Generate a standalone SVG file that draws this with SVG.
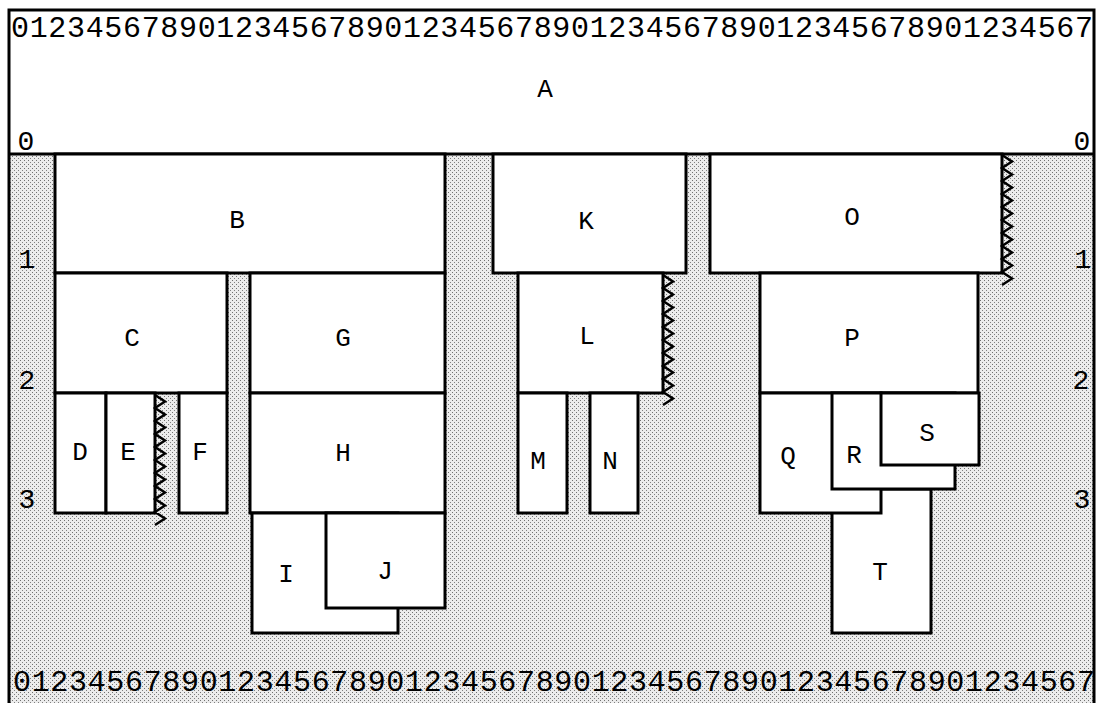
<svg xmlns="http://www.w3.org/2000/svg" width="1099" height="703" viewBox="0 0 1099 703">
<defs>
<pattern id="dots" width="4" height="4" patternUnits="userSpaceOnUse">
<rect width="4" height="4" fill="#ececec"/>
<rect x="0" y="0" width="1" height="1" fill="#707070"/>
<rect x="2" y="2" width="1" height="1" fill="#808080"/>
</pattern>
</defs>
<style>
.bx{fill:#fff;stroke:#000;stroke-width:3}
.zz{fill:none;stroke:#000;stroke-width:2.5;stroke-linejoin:miter}
.lb{font-family:"Liberation Mono","DejaVu Sans Mono",monospace;font-size:26px;fill:#000;text-anchor:middle}
.num{font-family:"Liberation Mono","DejaVu Sans Mono",monospace;font-size:28px;fill:#000;text-anchor:middle}
.rul{font-family:"Liberation Mono","DejaVu Sans Mono",monospace;font-size:30px;fill:#000}
.edge{fill:none;stroke:#000;stroke-width:3}
</style>
<rect x="0" y="0" width="1099" height="703" fill="#fff"/>
<rect x="9" y="154" width="1086" height="549" fill="url(#dots)"/>
<g id="A">
<rect x="9" y="10" width="1085" height="144" fill="#fff" stroke="none"/>
<text class="lb" x="545" y="97">A</text>
</g>
<path class="edge" d="M9 703 V10 H1094 V703 M9 154 H1094"/>
<text class="rul" x="11" y="37" textLength="1082" lengthAdjust="spacing">0123456789012345678901234567890123456789012345678901234567</text>
<text class="rul" x="13" y="691" textLength="1082" lengthAdjust="spacing">0123456789012345678901234567890123456789012345678901234567</text>
<text class="num" x="26" y="150">0</text>
<text class="num" x="27" y="268">1</text>
<text class="num" x="27" y="389">2</text>
<text class="num" x="27" y="508">3</text>
<text class="num" x="1082" y="150">0</text>
<text class="num" x="1083" y="268">1</text>
<text class="num" x="1081" y="389">2</text>
<text class="num" x="1082" y="508">3</text>
<g id="B"><rect class="bx" x="55" y="154" width="390" height="119"/><text class="lb" x="237" y="228">B</text></g>
<g id="C"><rect class="bx" x="55" y="273" width="172" height="120"/><text class="lb" x="132" y="346">C</text></g>
<g id="D"><rect class="bx" x="55" y="393" width="51" height="120"/><text class="lb" x="80" y="460">D</text></g>
<g id="E"><rect class="bx" x="106" y="393" width="49" height="120"/><text class="lb" x="128" y="460">E</text>
<path class="zz" d="M155 395 l10 6.5 l-10 6.5 l10 6.5 l-10 6.5 l10 6.5 l-10 6.5 l10 6.5 l-10 6.5 l10 6.5 l-10 6.5 l10 6.5 l-10 6.5 l10 6.5 l-10 6.5 l10 6.5 l-10 6.5 l10 6.5 l-10 6.5 l10 6.5 l-10 6.5"/></g>
<g id="F"><rect class="bx" x="179" y="393" width="48" height="120"/><text class="lb" x="200" y="460">F</text></g>
<g id="G"><rect class="bx" x="250" y="273" width="195" height="120"/><text class="lb" x="343" y="346">G</text></g>
<g id="H"><rect class="bx" x="250" y="393" width="195" height="120"/><text class="lb" x="343" y="461">H</text></g>
<g id="I"><rect class="bx" x="252" y="513" width="146" height="120"/><text class="lb" x="286" y="582">I</text></g>
<g id="J"><rect class="bx" x="326" y="513" width="119" height="95"/><text class="lb" x="385" y="579">J</text></g>
<g id="K"><rect class="bx" x="493" y="154" width="193" height="119"/><text class="lb" x="586" y="229">K</text></g>
<g id="L"><rect class="bx" x="518" y="273" width="145" height="120"/><text class="lb" x="587" y="344">L</text>
<path class="zz" d="M663 275 l10 6.5 l-10 6.5 l10 6.5 l-10 6.5 l10 6.5 l-10 6.5 l10 6.5 l-10 6.5 l10 6.5 l-10 6.5 l10 6.5 l-10 6.5 l10 6.5 l-10 6.5 l10 6.5 l-10 6.5 l10 6.5 l-10 6.5 l10 6.5 l-10 6.5"/></g>
<g id="M"><rect class="bx" x="518" y="393" width="49" height="120"/><text class="lb" x="538" y="469">M</text></g>
<g id="N"><rect class="bx" x="590" y="393" width="48" height="120"/><text class="lb" x="610" y="469">N</text></g>
<g id="O"><rect class="bx" x="710" y="154" width="292" height="119"/><text class="lb" x="852" y="225">O</text>
<path class="zz" d="M1002 155 l10 6.5 l-10 6.5 l10 6.5 l-10 6.5 l10 6.5 l-10 6.5 l10 6.5 l-10 6.5 l10 6.5 l-10 6.5 l10 6.5 l-10 6.5 l10 6.5 l-10 6.5 l10 6.5 l-10 6.5 l10 6.5 l-10 6.5 l10 6.5 l-10 6.5"/></g>
<g id="P"><rect class="bx" x="760" y="273" width="218" height="120"/><text class="lb" x="852" y="346">P</text></g>
<g id="T"><rect class="bx" x="832" y="489" width="99" height="144"/><text class="lb" x="880" y="580">T</text></g>
<g id="Q"><rect class="bx" x="760" y="393" width="121" height="120"/><text class="lb" x="788" y="464">Q</text></g>
<g id="R"><rect class="bx" x="832" y="393" width="123" height="96"/><text class="lb" x="854" y="463">R</text></g>
<g id="S"><rect class="bx" x="881" y="393" width="98" height="72"/><text class="lb" x="927" y="441">S</text></g>
</svg>
